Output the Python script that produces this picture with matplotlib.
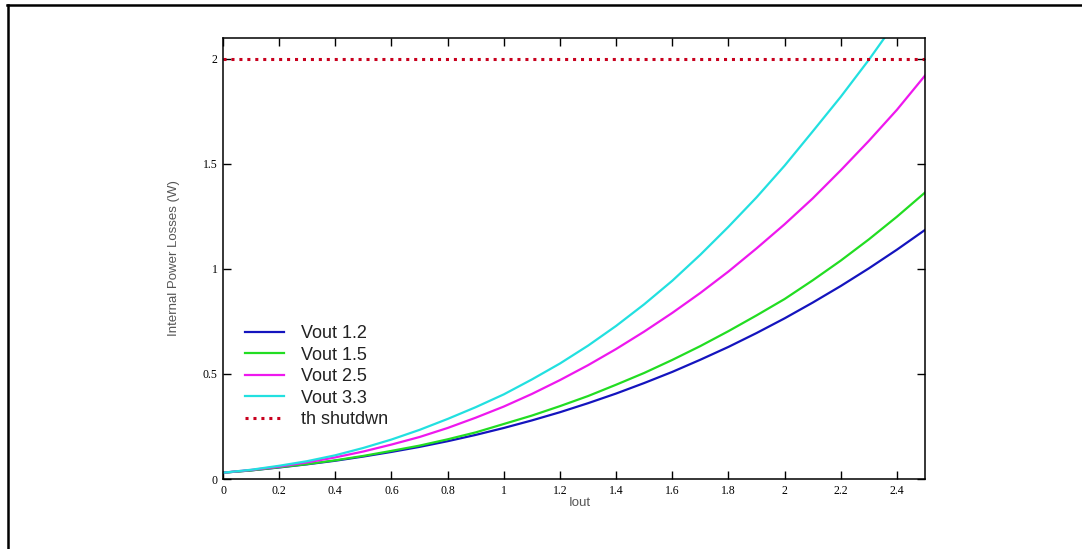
import matplotlib.pyplot as plt
from matplotlib.lines import Line2D

# Iout grid (A) and losses (W)
iout = [0.0, 0.1, 0.2, 0.3, 0.4, 0.5, 0.6, 0.7, 0.8, 0.9, 1.0, 1.1, 1.2,
        1.3, 1.4, 1.5, 1.6, 1.7, 1.8, 1.9, 2.0, 2.1, 2.2, 2.3, 2.4, 2.5]

vout_12 = [0.030, 0.041, 0.055, 0.070, 0.087, 0.107, 0.129, 0.153, 0.180,
           0.210, 0.243, 0.279, 0.318, 0.361, 0.407, 0.457, 0.510, 0.568,
           0.629, 0.695, 0.765, 0.840, 0.919, 1.003, 1.092, 1.186]
vout_15 = [0.030, 0.041, 0.056, 0.071, 0.089, 0.110, 0.134, 0.159, 0.189,
           0.222, 0.262, 0.302, 0.347, 0.395, 0.449, 0.505, 0.567, 0.633,
           0.704, 0.779, 0.857, 0.946, 1.040, 1.141, 1.249, 1.364]
vout_25 = [0.030, 0.043, 0.059, 0.079, 0.103, 0.131, 0.164, 0.200, 0.243,
           0.292, 0.345, 0.405, 0.471, 0.542, 0.619, 0.702, 0.791, 0.886,
           0.988, 1.098, 1.213, 1.336, 1.470, 1.610, 1.758, 1.921]
vout_33 = [0.030, 0.044, 0.063, 0.085, 0.113, 0.148, 0.188, 0.234, 0.286,
           0.342, 0.403, 0.474, 0.550, 0.635, 0.729, 0.832, 0.944, 1.068,
           1.201, 1.341, 1.492, 1.655, 1.820, 1.996, 2.184, 2.380]
th_shutdown = 2.0

x_ticks = [0, 0.2, 0.4, 0.6, 0.8, 1, 1.2, 1.4, 1.6, 1.8, 2, 2.2, 2.4]
x_tick_labels = ['0', '0.2', '0.4', '0.6', '0.8', '1', '1.2', '1.4', '1.6',
                 '1.8', '2', '2.2', '2.4']
y_ticks = [0, 0.5, 1, 1.5, 2]
y_tick_labels = ['0', '0.5', '1', '1.5', '2']

fig = plt.figure(figsize=(10.82, 5.49), dpi=100)
ax = fig.add_axes([0.2061, 0.1275, 0.6488, 0.8033])

ax.plot(iout, vout_12, color='#1414be', lw=1.6, label='Vout 1.2')
ax.plot(iout, vout_15, color='#22dd22', lw=1.6, label='Vout 1.5')
ax.plot(iout, vout_25, color='#ee18ee', lw=1.6, label='Vout 2.5')
ax.plot(iout, vout_33, color='#22e0e0', lw=1.6, label='Vout 3.3')
ax.axhline(th_shutdown, color='#c8001e', lw=2.2, linestyle=(0, (1, 1.6)),
           label='th shutdwn')

ax.set_xlim(0, 2.5)
ax.set_ylim(0, 2.1)
ax.set_xticks(x_ticks)
ax.set_xticklabels(x_tick_labels)
ax.set_yticks(y_ticks)
ax.set_yticklabels(y_tick_labels)
ax.tick_params(direction='in', length=6, width=1, top=True, right=True,
               labelsize=8.5, pad=4)
for lab in ax.get_xticklabels() + ax.get_yticklabels():
    lab.set_family('Liberation Serif')
for sp in ax.spines.values():
    sp.set_linewidth(1.1)

ax.set_xlabel('Iout', family='Liberation Sans', fontsize=9.5, color='#555555')
ax.xaxis.set_label_coords(0.508, -0.04)
ax.set_ylabel('Internal Power Losses (W)', family='Liberation Sans',
              fontsize=9.5, color='#555555', labelpad=16)

leg = ax.legend(loc='upper left', bbox_to_anchor=(0.031, 0.349),
                frameon=False, borderaxespad=0, borderpad=0,
                handlelength=2.2, handletextpad=0.9, labelspacing=0.25,
                prop={'family': 'Liberation Sans', 'size': 13})
for t in leg.get_texts():
    t.set_color('#222222')

# frame around the figure (left and top edges visible)
fig.add_artist(Line2D([7.5 / 1082, 7.5 / 1082], [0, 1 - 4.5 / 549],
                      color='black', lw=1.8, transform=fig.transFigure))
fig.add_artist(Line2D([6.5 / 1082, 1], [1 - 4.5 / 549, 1 - 4.5 / 549],
                      color='black', lw=1.8, transform=fig.transFigure))

fig.savefig('out.png', dpi=100)
